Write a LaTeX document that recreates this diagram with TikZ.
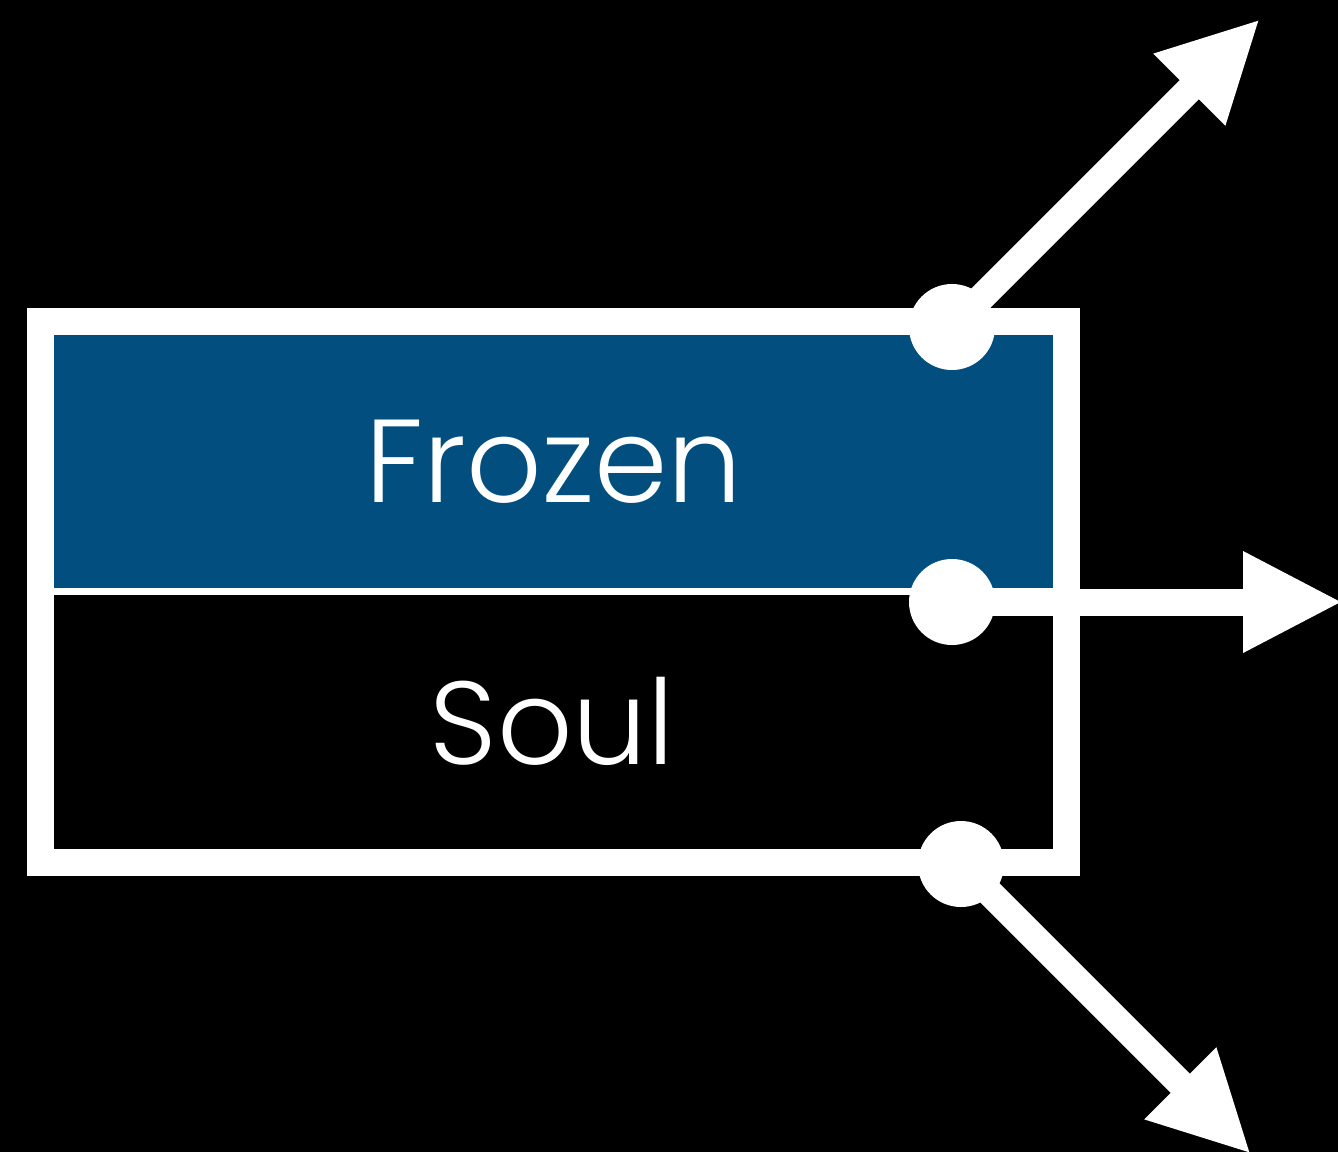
\documentclass[tikz,border=0pt]{standalone}
\usepackage{fontspec}
\setmainfont{Poppins}[UprightFont={* Light}]
\usepackage{tikz}
\usetikzlibrary{arrows.meta}
\definecolor{frozenblue}{RGB}{2,79,127}

\begin{document}
\begin{tikzpicture}[x=0.5pt,y=-0.5pt,
		caixa/.style={draw=none,inner sep=0pt,minimum width=500.5pt},
		rotulo/.style={text=white,anchor=base,font=\fontsize{59}{60}\selectfont},
		ponto/.style={circle,fill=white,inner sep=0pt,minimum size=43pt},
		seta/.style={white,line width=13.5pt,-{Triangle[length=50pt,width=47pt]}}]
				% Fundo preto
				\fill[black] (0,0) rectangle (1338,1152);
				\useasboundingbox (0,0) rectangle (1338,1152);
				
				% Caixas Frozen e Soul
				\node[caixa,fill=frozenblue,minimum height=128.25pt] (frozen) at (553.5,463.25) {};
				\node[caixa,fill=black,minimum height=129.25pt] (soul) at (553.5,720.75) {};
				\draw[white,line width=13.5pt] (40,321.5) rectangle (1066.5,862.5);
				\draw[white,line width=3.5pt] (frozen.south west) -- (frozen.south east);
				\node[rotulo] (frozenlbl) at (554,502) {Frozen};
				\node[rotulo] (soullbl) at (552,764) {Soul};
				
				% Pontos e setas
				\coordinate (pontaA) at (1260,19);
				\coordinate (pontaB) at (1343,602);
				\coordinate (pontaC) at (1251,1154);
				\draw[seta] (952,327) coordinate (pA) -- (pontaA);
				\draw[seta] (952,602) coordinate (pB) -- (pontaB);
				\draw[seta] (961,864) coordinate (pC) -- (pontaC);
				\node[ponto] (dotA) at (pA) {};
				\node[ponto] (dotB) at (pB) {};
				\node[ponto] (dotC) at (pC) {};
			\end{tikzpicture}
\end{document}
